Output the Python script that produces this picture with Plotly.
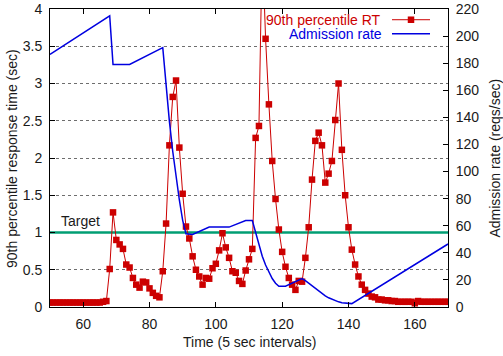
import plotly.graph_objects as go

# ---- data ----
TIME = list(range(50, 171))
RT_90 = [
    0.06, 0.06, 0.06, 0.06, 0.06, 0.06, 0.06, 0.06, 0.06, 0.06,   # 50-59
    0.06, 0.06, 0.06, 0.06, 0.06, 0.06, 0.07, 0.08, 0.51, 1.27,   # 60-69
    0.90, 0.84, 0.78, 0.57, 0.53, 0.39, 0.30, 0.26, 0.34, 0.33,   # 70-79
    0.25, 0.19, 0.15, 0.13, 0.48, 1.12, 2.17, 2.82, 3.04, 2.14,   # 80-89
    1.52, 1.08, 0.92, 0.68, 0.50, 0.41, 0.30, 0.39, 0.38, 0.52,   # 90-99
    0.58, 0.76, 0.99, 0.80, 0.66, 0.48, 0.46, 0.35, 0.31, 0.49,   # 100-109
    0.64, 0.78, 2.27, 2.43, 4.90, 3.60, 2.72, 1.96, 1.45, 1.04,   # 110-119
    0.74, 0.54, 0.39, 0.30, 0.23, 0.35, 0.34, 0.66, 1.07, 1.71,   # 120-129
    2.23, 2.34, 2.17, 1.67, 1.79, 1.96, 2.51, 3.00, 2.11, 1.50,   # 130-139
    1.07, 0.77, 0.57, 0.41, 0.30, 0.23, 0.18, 0.14, 0.13, 0.10,   # 140-149
    0.10, 0.09, 0.09, 0.08, 0.08, 0.07, 0.07, 0.07, 0.07, 0.07,   # 150-159
    0.05, 0.08, 0.07, 0.07, 0.07, 0.07, 0.07, 0.07, 0.07, 0.07,   # 160-169
    0.07,                                                         # 170
]
ADM_TIME = [50, 68, 69, 74, 84, 85, 86, 87, 88, 89, 90, 91, 93, 98, 104,
            109, 111, 112, 113, 114, 115, 116, 117, 118, 119, 121, 126,
            127, 128, 129, 130, 131, 132, 133, 134, 135, 136, 137, 138,
            139, 140, 141, 170]
ADM_RATE = [186.5, 215, 179, 179, 191.5, 162, 137, 115, 96, 79, 64, 54, 53.5,
            59, 59, 63.8, 63.8, 55, 45, 37.5, 31, 25.5, 21, 17.5, 15.3, 15.3,
            21, 19.5, 17.5, 15.5, 13.5, 11.5, 9.7, 8.2, 6.8, 5.6, 4.6, 3.8,
            3.2, 2.9, 2.5, 2.5, 46.5]
TARGET = 1.0
X_RANGE = [50, 170]
Y_RANGE = [0, 4]
Y2_RANGE = [0, 220]
X_TICKS = [60, 80, 100, 120, 140, 160]
Y_TICKS = [0, 0.5, 1, 1.5, 2, 2.5, 3, 3.5, 4]
Y2_TICKS = list(range(0, 221, 20))

RED = "#cc0000"
BLUE = "#0000e0"
GREEN = "#009e73"
FONT = "Liberation Sans, Arial, sans-serif"
TXT = "#1a1a1a"

fig = go.Figure()
fig.add_trace(go.Scatter(x=X_RANGE, y=[TARGET, TARGET], mode="lines",
                         line=dict(color=GREEN, width=2.5), showlegend=False,
                         hoverinfo="skip"))
fig.add_trace(go.Scatter(x=ADM_TIME, y=ADM_RATE, mode="lines", yaxis="y2",
                         line=dict(color=BLUE, width=1.5), showlegend=False,
                         name="Admission rate"))
fig.add_trace(go.Scatter(x=TIME, y=RT_90, mode="lines+markers",
                         line=dict(color=RED, width=1),
                         marker=dict(symbol="square", size=6.5, color=RED),
                         showlegend=False, name="90th percentile RT",
                         cliponaxis=True))

# legend drawn gnuplot-style (text right-aligned, sample at right)
LX0, LX1 = 0.8593, 0.9548
LY1, LY2 = 0.964, 0.917
shapes = [
    dict(type="line", xref="paper", yref="paper", x0=LX0, x1=LX1, y0=LY1, y1=LY1,
         line=dict(color=RED, width=1)),
    dict(type="rect", xref="paper", yref="paper", xsizemode="pixel",
         ysizemode="pixel", xanchor=(LX0 + LX1) / 2, yanchor=LY1,
         x0=-3.25, x1=3.25, y0=-3.25, y1=3.25, fillcolor=RED,
         line=dict(width=0)),
    dict(type="line", xref="paper", yref="paper", x0=LX0, x1=LX1, y0=LY2, y1=LY2,
         line=dict(color=BLUE, width=1.5)),
]
annotations = [
    dict(text="90th percentile RT", xref="paper", yref="paper", x=0.8334,
         y=LY1, xanchor="right", yanchor="middle", showarrow=False,
         borderpad=0, font=dict(color=RED, size=14, family=FONT)),
    dict(text="Admission rate", xref="paper", yref="paper", x=0.8359,
         y=LY2, xanchor="right", yanchor="middle", showarrow=False,
         borderpad=0, font=dict(color=BLUE, size=14, family=FONT)),
    dict(text="Target", x=59.3, y=1.15, xref="x", yref="y", showarrow=False,
         xanchor="center", yanchor="middle",
         font=dict(color=TXT, size=14, family=FONT)),
    dict(text="90th percentile response time (sec)", xref="paper", yref="paper",
         x=-0.0955, y=0.5, textangle=-90, showarrow=False, xanchor="center",
         yanchor="middle", font=dict(color=TXT, size=14, family=FONT)),
    dict(text="Admission rate (reqs/sec)", xref="paper", yref="paper",
         x=1.117, y=0.5, textangle=-90, showarrow=False, xanchor="center",
         yanchor="middle", font=dict(color=TXT, size=14, family=FONT)),
    dict(text="Time (5 sec intervals)", xref="paper", yref="paper",
         x=0.5, y=-0.117, showarrow=False, xanchor="center",
         yanchor="middle", font=dict(color=TXT, size=14, family=FONT)),
]

fig.update_layout(
    width=503, height=356,
    margin=dict(l=50, r=55, t=9, b=49, autoexpand=False),
    paper_bgcolor="white", plot_bgcolor="white",
    font=dict(family=FONT, size=14, color=TXT),
    showlegend=False,
    shapes=shapes,
    annotations=annotations,
    xaxis=dict(range=X_RANGE, tickvals=X_TICKS, ticks="inside", ticklen=5,
               tickcolor="black", showline=True, linecolor="black",
               linewidth=1, mirror="ticks", showgrid=False, zeroline=False,
               ticklabelstandoff=4, automargin=False),
    yaxis=dict(range=Y_RANGE, tickvals=Y_TICKS, ticks="inside", ticklen=5,
               tickcolor="black", showline=True, linecolor="black",
               linewidth=1, showgrid=True, gridcolor="#6e6e6e",
               griddash="dot", gridwidth=1, zeroline=False,
               ticklabelstandoff=4, automargin=False),
    yaxis2=dict(range=Y2_RANGE, tickvals=Y2_TICKS, overlaying="y",
                side="right", ticks="inside", ticklen=5, tickcolor="black",
                showline=True, linecolor="black", linewidth=1,
                showgrid=False, zeroline=False, ticklabelstandoff=4,
                automargin=False),
)

fig.write_html(
    "out.html",
    config={"displayModeBar": False},
    post_script="document.body.style.margin='0';document.body.style.overflow='hidden';",
)
